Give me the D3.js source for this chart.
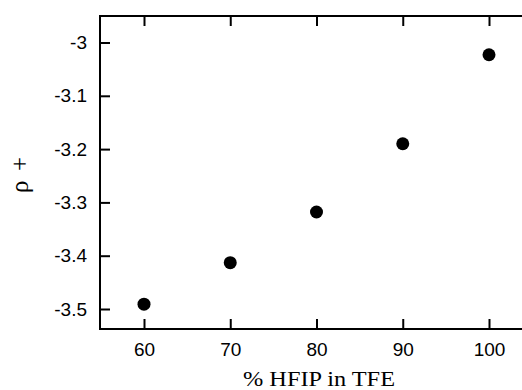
<!DOCTYPE html>
<html>
<head>
<meta charset="utf-8">
<script src="https://cdn.jsdelivr.net/npm/d3@7"></script>
<style>
  body { margin: 0; background: #fff; }
  svg { display: block; }
</style>
</head>
<body>
<div id="chart"></div>
<script>
const hfip = [60, 70, 80, 90, 100];
const rho = [-3.491, -3.413, -3.318, -3.190, -3.023];
const xTicks = [60, 70, 80, 90, 100];
const yTicks = [-3, -3.1, -3.2, -3.3, -3.4, -3.5];

const w = 522;
const h = 390;
const padLeft = 100, padRight = 522, padTop = 16, padBottom = 329;

const svg = d3.select('#chart')
    .append('svg')
    .attr('width', w)
    .attr('height', h);

const x = d3.scaleLinear().domain([60, 100]).range([144, 489]);
const y = d3.scaleLinear().domain([-3.5, -3]).range([309, 42.5]);

// frame lines: left, bottom, top
svg.append('line').attr('x1', padLeft).attr('x2', padLeft).attr('y1', padTop).attr('y2', padBottom)
    .attr('stroke', '#000').attr('stroke-width', 2);
svg.append('line').attr('x1', padLeft - 1).attr('x2', padRight).attr('y1', padBottom).attr('y2', padBottom)
    .attr('stroke', '#000').attr('stroke-width', 2);
svg.append('line').attr('x1', padLeft - 1).attr('x2', padRight).attr('y1', padTop).attr('y2', padTop)
    .attr('stroke', '#000').attr('stroke-width', 2);

const styleAxis = g => {
    g.attr('font-size', null).attr('font-family', null);
    g.select('.domain').remove();
    g.selectAll('.tick line').attr('stroke-width', 2);
    g.selectAll('.tick text')
        .style('font-family', '"Liberation Sans", Arial, sans-serif')
        .style('font-size', '19px')
        .attr('fill', '#000');
};

const xAxis = d3.axisBottom(x).tickValues(xTicks).tickSizeInner(-10).tickSizeOuter(0).tickPadding(14);
svg.append('g').attr('transform', 'translate(0,' + padBottom + ')').call(xAxis).call(styleAxis);

const xTop = d3.axisTop(x).tickValues(xTicks).tickSize(-10).tickFormat('');
svg.append('g').attr('transform', 'translate(0,' + padTop + ')').call(xTop).call(styleAxis);

const yAxis = d3.axisLeft(y).tickValues(yTicks).tickSizeInner(-10).tickSizeOuter(0).tickPadding(13)
    .tickFormat(d => String(d));
svg.append('g').attr('transform', 'translate(' + padLeft + ',0)').call(yAxis).call(styleAxis);

svg.selectAll('circle')
    .data(hfip)
    .enter()
    .append('circle')
    .attr('cx', (d, i) => x(d))
    .attr('cy', (d, i) => y(rho[i]))
    .attr('r', 6.5)
    .attr('fill', '#000');

svg.append('text')
    .attr('x', 243)
    .attr('y', 386)
    .attr('textLength', 152)
    .attr('lengthAdjust', 'spacingAndGlyphs')
    .style('font-family', '"Liberation Serif", "Times New Roman", serif')
    .style('font-size', '20px')
    .text('% HFIP in TFE');

svg.append('text')
    .attr('transform', 'translate(28,193) rotate(-90)')
    .attr('textLength', 36)
    .attr('lengthAdjust', 'spacing')
    .style('font-family', '"Liberation Serif", "Times New Roman", serif')
    .style('font-size', '25px')
    .text('ρ +');
</script>
</body>
</html>
